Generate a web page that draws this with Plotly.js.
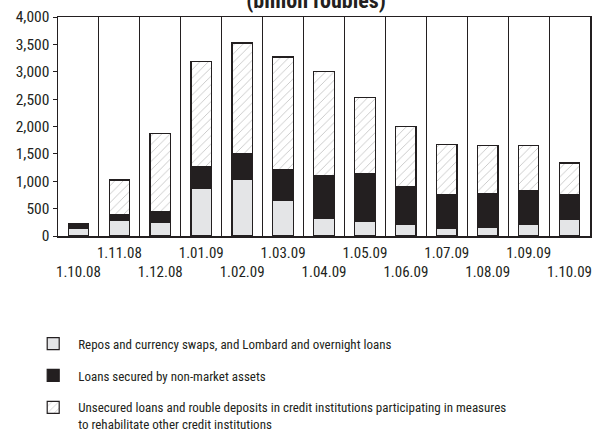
<!DOCTYPE html>
<html>
<head>
<meta charset="utf-8">
<script src="https://cdn.plot.ly/plotly-3.0.1.min.js"></script>
<style>html,body{margin:0;padding:0;background:#fff;}#chart{width:594px;height:437px;}</style>
</head>
<body>
<div id="chart"></div>
<script>
const dates = ["1.10.08","1.11.08","1.12.08","1.01.09","1.02.09","1.03.09","1.04.09","1.05.09","1.06.09","1.07.09","1.08.09","1.09.09","1.10.09"];
const repos = [146, 280, 244, 866, 1043, 652, 317, 274, 220, 140, 152, 220, 305];
const nonMarket = [74, 116, 207, 408, 457, 568, 781, 860, 682, 622, 628, 603, 457];
const unsecured = [0, 628, 1427, 1915, 2024, 2048, 1908, 1390, 1098, 915, 872, 823, 573];
const seriesNames = [
  "Repos and currency swaps, and Lombard and overnight loans",
  "Loans secured by non-market assets",
  "Unsecured loans and rouble deposits in credit institutions participating in measures<br>to rehabilitate other credit institutions"
];
const yTicks = [0,500,1000,1500,2000,2500,3000,3500,4000];

const FONT = "'Roboto Condensed', 'DejaVu Sans Condensed', sans-serif";
const tickText = dates.map((d,i) => i % 2 === 0 ? "<br>" + d : d);
const outline = {color: "#231f20", width: 1.2};

const traces = [
  {type: "bar", x: dates, y: repos, name: seriesNames[0], legendgroup: "a",
   marker: {color: "#e4e5e7", line: outline}},
  {type: "bar", x: dates, y: nonMarket, name: seriesNames[1], legendgroup: "b",
   marker: {color: "#231f20", line: outline}},
  {type: "bar", x: dates, y: unsecured, name: seriesNames[2], legendgroup: "c",
   marker: {color: "#ffffff", line: outline,
            pattern: {shape: "/", fgcolor: "#b8b8b8", bgcolor: "#ffffff", size: 6, solidity: 0.12}}}
];

const layout = {
  width: 594, height: 437,
  margin: {l: 58, r: 4, t: 17, b: 201},
  paper_bgcolor: "#fff", plot_bgcolor: "#fff",
  barmode: "stack", bargap: 0.5,
  font: {family: FONT, color: "#231f20", size: 15},
  title: {text: "<b>(billion roubles)</b>", font: {family: FONT, size: 22, color: "#231f20"},
          xref: "paper", x: 0.485, xanchor: "center", yref: "container", y: 1, yanchor: "middle"},
  xaxis: {type: "category", tickmode: "array", tickvals: dates, ticktext: tickText,
          tickson: "boundaries", showgrid: true, gridcolor: "#231f20", gridwidth: 1,
          ticks: "", showline: true, mirror: true, linecolor: "#231f20", linewidth: 1.5,
          tickfont: {family: FONT, size: 15, color: "#231f20"}, ticklen: 0, tickangle: 0,
          ticklabelstandoff: 2},
  yaxis: {range: [0, 4000], tickmode: "array", tickvals: yTicks, tickformat: ",d",
          showgrid: false, zeroline: false, ticks: "outside", ticklen: 4, tickcolor: "#231f20",
          showline: true, mirror: true, linecolor: "#231f20", linewidth: 1.5,
          tickfont: {family: FONT, size: 15.5, color: "#231f20"}},
  showlegend: true,
  legend: {xref: "paper", yref: "container", x: -0.056, xanchor: "left", y: 0.248, yanchor: "top",
           traceorder: "grouped", orientation: "v", tracegroupgap: 12, valign: "top",
           font: {family: FONT, size: 13, color: "#231f20"},
           bgcolor: "rgba(0,0,0,0)", itemwidth: 40}
};

Plotly.newPlot("chart", traces, layout, {displayModeBar: false, staticPlot: true});
</script>
</body>
</html>
